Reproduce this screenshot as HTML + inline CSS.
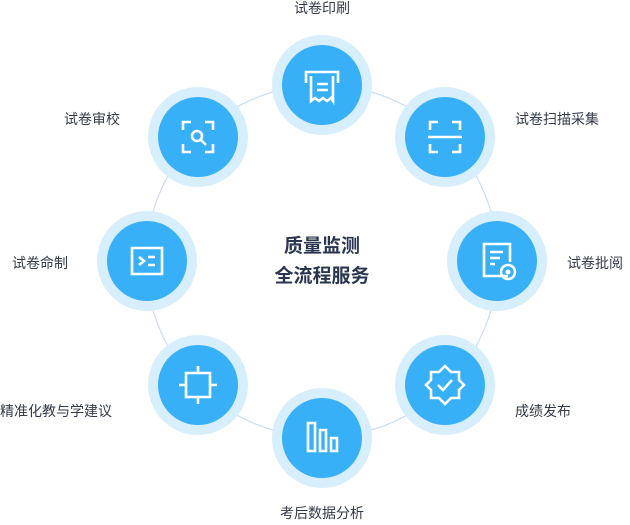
<!DOCTYPE html>
<html><head><meta charset="utf-8"><style>
body{margin:0;background:#fff}
svg text{font-family:"Liberation Sans","Noto Sans CJK SC",sans-serif;fill:#333a4a}
</style></head><body>
<svg width="630" height="520" viewBox="0 0 630 520" xmlns="http://www.w3.org/2000/svg">
<circle cx="322" cy="261" r="176" fill="none" stroke="#c9dcfb" stroke-width="1.2"/>
<g fill="#d7eefc"><circle cx="322" cy="85" r="50"/><circle cx="445" cy="137" r="50"/><circle cx="497" cy="261" r="50"/><circle cx="445" cy="385" r="50"/><circle cx="322" cy="438" r="50"/><circle cx="198" cy="385" r="50"/><circle cx="147" cy="261" r="50"/><circle cx="198" cy="137" r="50"/></g>
<g fill="#38b0f8"><circle cx="322" cy="85" r="40"/><circle cx="445" cy="137" r="40"/><circle cx="497" cy="261" r="40"/><circle cx="445" cy="385" r="40"/><circle cx="322" cy="438" r="40"/><circle cx="198" cy="385" r="40"/><circle cx="147" cy="261" r="40"/><circle cx="198" cy="137" r="40"/></g>
<g fill="none" stroke="#fff" stroke-width="2.6">
<path d="M306 83 V72 H338 V83"/><path d="M311 76 V101 L315 98 L319 101 L323 98 L327 101 L331 98 L333 101 V76"/><path d="M317 84 H328 M317 90 H328"/>
<path d="M430 130 V122 H438 M452 122 H460 V130 M430 144 V152 H438 M452 152 H460 V144 M428 137 H462"/>
<path d="M508 276 H484 V244 H510 V262"/><path d="M490 252 H503 M490 258 H500 M490 264 H495"/><circle cx="508" cy="272" r="7"/>
<path d="M445 366 L451 372 L459 372 L459 380 L464 385 L459 390 L459 398 L451 398 L445 404 L439 398 L431 398 L431 390 L426 385 L431 380 L431 372 L439 372 Z"/><path d="M438 385 L443 390 L452 380"/>
<path d="M308 423 V451 H315 V423 Z M320 430 V451 H326 V430 Z M331 438 V451 H337 V438 Z"/>
<path d="M186 373 H210 V397 H186 Z M198 366 V373 M198 397 V404 M179 385 H186 M210 385 H217"/>
<path d="M132 248 H162 V274 H132 Z"/><path d="M139 257 L144 261 L139 265 M148 257 H155 M148 265 H155"/>
<path d="M183 130 V122 H191 M205 122 H213 V130 M183 144 V152 H191 M213 144 V152 H205"/><circle cx="197" cy="136" r="5"/><path d="M201 140 L206 145"/>
</g>
<circle cx="508" cy="272" r="2.5" fill="#fff"/>
<text x="322" y="13" font-size="14" text-anchor="middle">试卷印刷</text>
<text x="515" y="124" font-size="14">试卷扫描采集</text>
<text x="567" y="268" font-size="14">试卷批阅</text>
<text x="515" y="416" font-size="14">成绩发布</text>
<text x="322" y="518" font-size="14" text-anchor="middle">考后数据分析</text>
<text x="0" y="416" font-size="14">精准化教与学建议</text>
<text x="12" y="268" font-size="14">试卷命制</text>
<text x="64" y="124" font-size="14">试卷审校</text>
<text x="322" y="252" font-size="19" font-weight="bold" text-anchor="middle" style="fill:#2a3550">质量监测</text>
<text x="322" y="282" font-size="19" font-weight="bold" text-anchor="middle" style="fill:#2a3550">全流程服务</text>
</svg>
</body></html>
